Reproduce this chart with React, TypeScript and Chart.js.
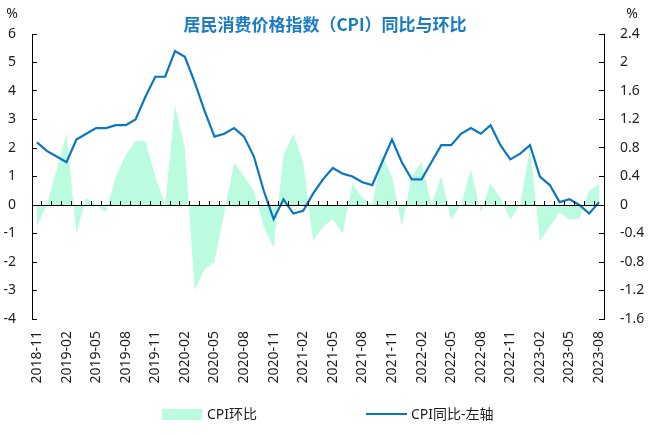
import React, { useEffect, useRef } from 'react';
import { Chart, registerables } from 'chart.js';

Chart.register(...registerables);

const months: string[] = [
  '2018-11', '2018-12',
  '2019-01', '2019-02', '2019-03', '2019-04', '2019-05', '2019-06', '2019-07', '2019-08', '2019-09', '2019-10', '2019-11', '2019-12',
  '2020-01', '2020-02', '2020-03', '2020-04', '2020-05', '2020-06', '2020-07', '2020-08', '2020-09', '2020-10', '2020-11', '2020-12',
  '2021-01', '2021-02', '2021-03', '2021-04', '2021-05', '2021-06', '2021-07', '2021-08', '2021-09', '2021-10', '2021-11', '2021-12',
  '2022-01', '2022-02', '2022-03', '2022-04', '2022-05', '2022-06', '2022-07', '2022-08', '2022-09', '2022-10', '2022-11', '2022-12',
  '2023-01', '2023-02', '2023-03', '2023-04', '2023-05', '2023-06', '2023-07', '2023-08',
];

// CPI 同比 (left axis, %)
const cpiYoY: number[] = [
  2.2, 1.9,
  1.7, 1.5, 2.3, 2.5, 2.7, 2.7, 2.8, 2.8, 3.0, 3.8, 4.5, 4.5,
  5.4, 5.2, 4.3, 3.3, 2.4, 2.5, 2.7, 2.4, 1.7, 0.5, -0.5, 0.2,
  -0.3, -0.2, 0.4, 0.9, 1.3, 1.1, 1.0, 0.8, 0.7, 1.5, 2.3, 1.5,
  0.9, 0.9, 1.5, 2.1, 2.1, 2.5, 2.7, 2.5, 2.8, 2.1, 1.6, 1.8,
  2.1, 1.0, 0.7, 0.1, 0.2, 0.0, -0.3, 0.1,
];

// CPI 环比 (right axis, %)
const cpiMoM: number[] = [
  -0.3, 0.0,
  0.5, 1.0, -0.4, 0.1, 0.0, -0.1, 0.4, 0.7, 0.9, 0.9, 0.4, 0.0,
  1.4, 0.8, -1.2, -0.9, -0.8, -0.1, 0.6, 0.4, 0.2, -0.3, -0.6, 0.7,
  1.0, 0.6, -0.5, -0.3, -0.2, -0.4, 0.3, 0.1, 0.0, 0.7, 0.4, -0.3,
  0.4, 0.6, 0.0, 0.4, -0.2, 0.0, 0.5, -0.1, 0.3, 0.1, -0.2, 0.0,
  0.8, -0.5, -0.3, -0.1, -0.2, -0.2, 0.2, 0.3,
];

const leftAxisRange = { min: -4, max: 6, step: 1 };
const rightAxisRange = { min: -1.6, max: 2.4, step: 0.4 };
const labelEvery = 3;

const TITLE = '居民消费价格指数（CPI）同比与环比';
const LEGEND_AREA = 'CPI环比';
const LEGEND_LINE = 'CPI同比-左轴';
const UNIT = '%';

const LINE_COLOR = '#0B77C1';
const AREA_COLOR = '#BBFBE0';
const TITLE_COLOR = '#1A7BC2';
const TEXT_COLOR = '#1e1e1e';
const FONT = '"Noto Sans", "Noto Sans CJK SC", sans-serif';
const CJK_FONT = '"Noto Sans CJK SC", "Noto Sans", sans-serif';

const overlayPlugin = {
  id: 'overlayText',
  afterDraw(chart: any) {
    const { ctx, chartArea } = chart;
    ctx.save();
    ctx.textBaseline = 'middle';
    ctx.textAlign = 'center';
    ctx.font = `bold 17px ${CJK_FONT}`;
    ctx.fillStyle = TITLE_COLOR;
    ctx.fillText(TITLE, (chartArea.left + chartArea.right) / 2 + 7, chartArea.top - 9);
    ctx.font = `14px ${FONT}`;
    ctx.fillStyle = TEXT_COLOR;
    ctx.fillText(UNIT, chartArea.left - 20, chartArea.top - 20);
    ctx.fillText(UNIT, chartArea.right + 28, chartArea.top - 20);
    ctx.restore();
  },
};

const fmt = (v: number) => {
  const r = Math.round(v * 10) / 10;
  return Object.is(r, -0) ? '0' : String(r);
};

export default function App() {
  const canvasRef = useRef<HTMLCanvasElement | null>(null);

  useEffect(() => {
    document.body.style.margin = '0';
    const canvas = canvasRef.current;
    if (!canvas) return;
    Chart.defaults.font.family = FONT;
    Chart.defaults.font.size = 14;
    Chart.defaults.color = TEXT_COLOR;

    const chart = new Chart(canvas, {
      type: 'line',
      data: {
        labels: months,
        datasets: [
          {
            label: LEGEND_LINE,
            data: cpiYoY,
            borderColor: LINE_COLOR,
            backgroundColor: LINE_COLOR,
            borderWidth: 2.2,
            pointRadius: 0,
            tension: 0,
            fill: false,
            yAxisID: 'y',
            xAxisID: 'x',
          },
          {
            label: LEGEND_AREA,
            data: cpiMoM,
            borderColor: 'rgba(0,0,0,0)',
            backgroundColor: AREA_COLOR,
            borderWidth: 0,
            pointRadius: 0,
            tension: 0,
            fill: 'origin',
            yAxisID: 'y1',
            xAxisID: 'x',
          },
        ],
      },
      options: {
        animation: false,
        responsive: true,
        maintainAspectRatio: false,
        layout: { padding: { top: 34, left: 0, right: 0, bottom: 0 } },
        plugins: {
          legend: { display: false },
          tooltip: { enabled: false },
          title: { display: false },
        },
        scales: {
          x: {
            type: 'category',
            position: { y: 0 } as any,
            offset: true,
            border: { display: true, color: '#000', width: 1, z: 1 } as any,
            grid: { display: true, drawOnChartArea: false, drawTicks: true, tickLength: -5, offset: true, color: '#000', lineWidth: 1, z: 1 } as any,
            ticks: { display: false },
          },
          x2: {
            type: 'category',
            position: 'bottom',
            offset: true,
            border: { display: false },
            grid: { display: false, drawTicks: false },
            ticks: {
              autoSkip: false,
              minRotation: 90,
              maxRotation: 90,
              padding: 12,
              color: TEXT_COLOR,
              font: { size: 14, family: FONT },
              callback: (_v: any, i: number) => (i % labelEvery === 0 ? months[i] : ''),
            },
            afterFit: (scale: any) => {
              scale.height = 117;
            },
          },
          y: {
            type: 'linear',
            position: 'left',
            min: leftAxisRange.min,
            max: leftAxisRange.max,
            border: { display: true, color: '#000', width: 1 },
            grid: { display: true, drawOnChartArea: false, drawTicks: true, tickLength: -5, color: '#000' },
            ticks: { stepSize: leftAxisRange.step, padding: 21, color: TEXT_COLOR, font: { size: 14, family: FONT }, callback: (v: any) => fmt(Number(v)) },
            afterFit: (scale: any) => {
              scale.width = 32;
            },
          },
          y1: {
            type: 'linear',
            position: 'right',
            min: rightAxisRange.min,
            max: rightAxisRange.max,
            border: { display: true, color: '#000', width: 1 },
            grid: { display: true, drawOnChartArea: false, drawTicks: true, tickLength: -5, color: '#000' },
            ticks: { stepSize: rightAxisRange.step, padding: 21, color: TEXT_COLOR, font: { size: 14, family: FONT }, callback: (v: any) => fmt(Number(v)) },
            afterFit: (scale: any) => {
              scale.width = 50;
            },
          },
        },
      },
      plugins: [overlayPlugin],
    });

    return () => {
      chart.destroy();
    };
  }, []);

  const legendText: React.CSSProperties = {
    fontFamily: FONT,
    fontSize: 14,
    color: TEXT_COLOR,
    lineHeight: '16px',
    whiteSpace: 'nowrap',
  };

  return (
    <div style={{ position: 'relative', width: 654, height: 436, overflow: 'hidden', background: '#fff' }}>
      <canvas ref={canvasRef} style={{ position: 'absolute', left: 0, top: 0, width: 654, height: 436 }} />
      <div style={{ position: 'absolute', left: 162, top: 406, display: 'flex', alignItems: 'center' }}>
        <span style={{ display: 'inline-block', width: 40, height: 11, background: AREA_COLOR, marginRight: 5 }} />
        <span style={legendText}>{LEGEND_AREA}</span>
      </div>
      <div style={{ position: 'absolute', left: 366, top: 406, display: 'flex', alignItems: 'center' }}>
        <span style={{ display: 'inline-block', width: 41, height: 2, background: LINE_COLOR, marginRight: 4 }} />
        <span style={legendText}>{LEGEND_LINE}</span>
      </div>
    </div>
  );
}
